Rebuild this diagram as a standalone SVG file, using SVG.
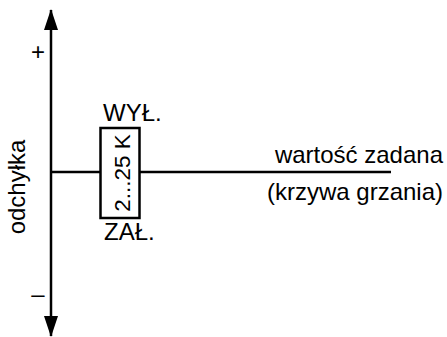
<svg xmlns="http://www.w3.org/2000/svg" width="447" height="337" viewBox="0 0 447 337">
  <style>
    .lbl { font-family: "Liberation Sans", Arial, Helvetica, sans-serif; font-size: 24px; fill: #000; }
    .band { font-size: 22.5px; }
    .ln { stroke: #000; stroke-width: 2.5; fill: none; }
  </style>
  <defs>
    <marker id="arrow" viewBox="0 0 21 14" refX="20" refY="7" markerWidth="21" markerHeight="14" markerUnits="userSpaceOnUse" orient="auto">
      <path d="M0,0 L21,7 L0,14 Z" fill="#000"/>
    </marker>
  </defs>
  <rect width="447" height="337" fill="#fff"/>

  <!-- connectors: deviation axis (both directions) and set-point line -->
  <g id="connectors">
    <line class="ln" x1="51" y1="172" x2="51" y2="10" marker-end="url(#arrow)"/>
    <line class="ln" x1="51" y1="172" x2="51" y2="336" marker-end="url(#arrow)"/>
    <line class="ln" x1="51" y1="172" x2="391" y2="172"/>
  </g>

  <!-- axis labels -->
  <g id="axis-labels">
    <text class="lbl" x="38" y="60" text-anchor="middle">+</text>
    <text class="lbl" x="38" y="302" text-anchor="middle">–</text>
    <text class="lbl" transform="translate(25,187) rotate(-90)" text-anchor="middle">odchyłka</text>
  </g>

  <!-- switching hysteresis band -->
  <g id="hysteresis">
    <rect x="100.5" y="128" width="39" height="90" fill="#fff" stroke="#000" stroke-width="2.5"/>
    <text class="lbl band" transform="translate(129.5,173) rotate(-90)" text-anchor="middle">2...25 K</text>
  </g>

  <g id="off-label">
    <text class="lbl" x="103" y="121">WYŁ.</text>
  </g>
  <g id="on-label">
    <text class="lbl" x="104" y="240">ZAŁ.</text>
  </g>

  <g id="setpoint-label">
    <text class="lbl" x="443" y="163" text-anchor="end">wartość zadana</text>
    <text class="lbl" x="443" y="200" text-anchor="end">(krzywa grzania)</text>
  </g>
</svg>
